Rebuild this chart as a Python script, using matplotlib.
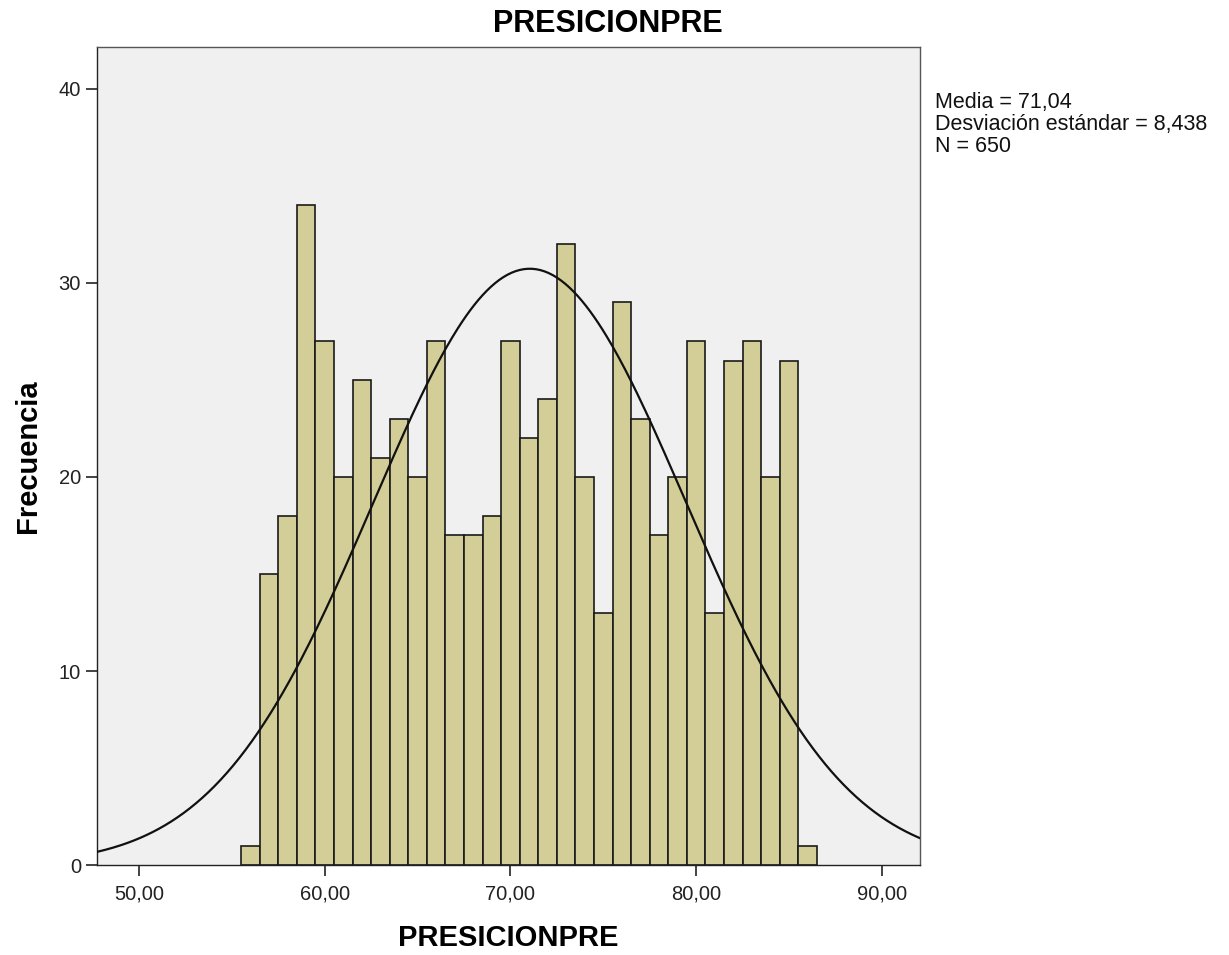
import matplotlib.pyplot as plt
import numpy as np

plt.rcParams['font.family'] = ['Liberation Sans', 'DejaVu Sans']

# histogram data (bins of width 1)
bin_centers = [56, 57, 58, 59, 60, 61, 62, 63, 64, 65, 66, 67, 68, 69, 70, 71,
               72, 73, 74, 75, 76, 77, 78, 79, 80, 81, 82, 83, 84, 85, 86]
counts = [1, 15, 18, 34, 27, 20, 25, 21, 23, 20, 27, 17, 17, 18, 27, 22,
          24, 32, 20, 13, 29, 23, 17, 20, 27, 13, 26, 27, 20, 26, 1]
bin_width = 1.0

mean = 71.04
std = 8.438
n_obs = 650

xticks = [50, 60, 70, 80, 90]
xticklabels = ['50,00', '60,00', '70,00', '80,00', '90,00']
yticks = [0, 10, 20, 30, 40]

fig = plt.figure(figsize=(12.29, 9.55), dpi=100)
ax = fig.add_axes([0.0789, 0.0942, 0.6697, 0.8566])
ax.set_facecolor('#f0f0f0')

ax.bar(bin_centers, counts, width=bin_width, color='#d3ce97',
       edgecolor='#1a1a1a', linewidth=1.2, zorder=2)

# normal curve scaled to counts
xs = np.linspace(47.74, 92.05, 400)
ys = n_obs * bin_width / (std * np.sqrt(2 * np.pi)) * np.exp(-0.5 * ((xs - mean) / std) ** 2)
ax.plot(xs, ys, color='#111111', linewidth=1.6, zorder=3)

ax.set_xlim(47.74, 92.05)
ax.set_ylim(0, 42.16)
ax.set_xticks(xticks)
ax.set_xticklabels(xticklabels)
ax.set_yticks(yticks)
ax.tick_params(axis='both', direction='out', length=8, width=1.2,
               labelsize=14.5, colors='#222222')
ax.tick_params(axis='x', pad=6)
for s in ax.spines.values():
    s.set_color('#555555')
    s.set_linewidth(1.0)
ax.spines['bottom'].set_color('#222222')
ax.spines['left'].set_color('#222222')

fig.text(0.495, 0.975, 'PRESICIONPRE', fontsize=22, fontweight='bold',
         ha='center', va='center')
ax.set_xlabel('PRESICIONPRE', fontsize=21, fontweight='bold', labelpad=15)
ax.set_ylabel('Frecuencia', fontsize=21, fontweight='bold', labelpad=12)

fig.text(0.7608, 0.904,
         'Media = 71,04\nDesviación estándar = 8,438\nN = 650',
         fontsize=15.5, va='top', ha='left', linespacing=1.08, color='#111111')

fig.savefig('out.png', dpi=100)
